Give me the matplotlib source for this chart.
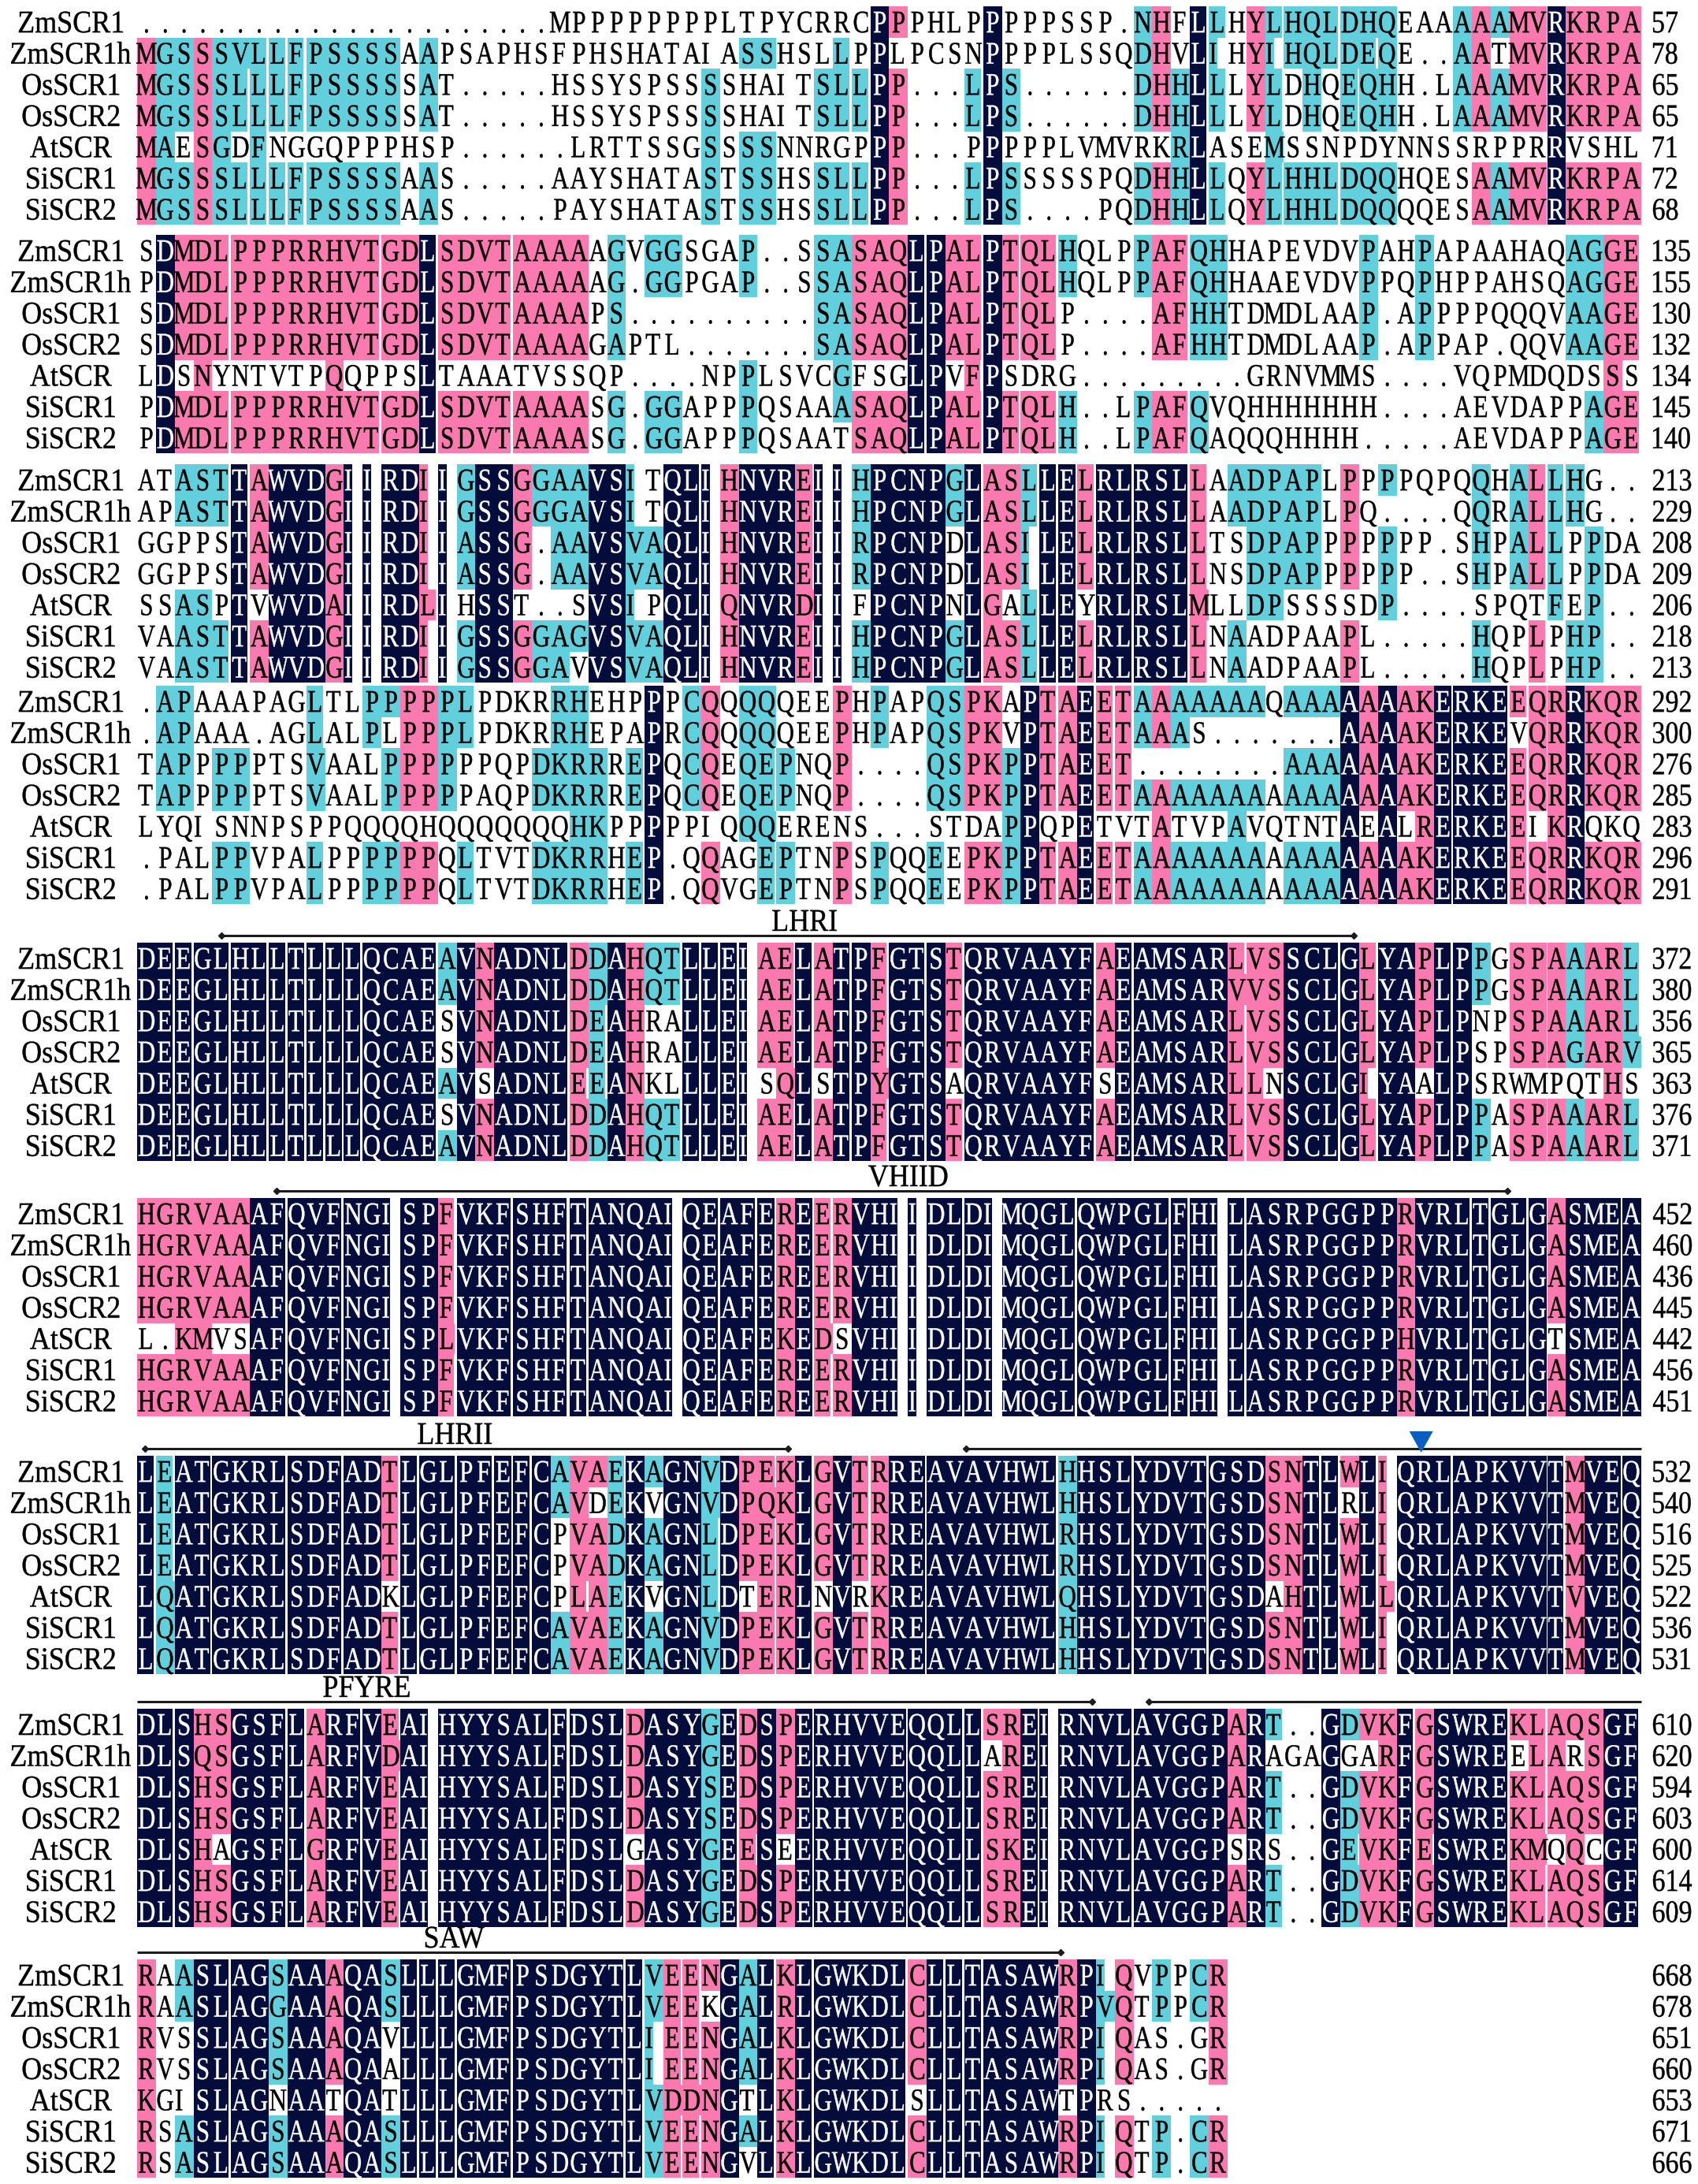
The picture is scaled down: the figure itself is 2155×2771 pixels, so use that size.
import matplotlib
matplotlib.use('Agg')
import matplotlib.pyplot as plt
from collections import Counter
from matplotlib.textpath import TextPath
from matplotlib.font_manager import FontProperties
from matplotlib.patches import PathPatch, Polygon
from matplotlib.path import Path
from matplotlib.collections import PolyCollection
from matplotlib.transforms import Affine2D

# ---------------- data ----------------
names = ['ZmSCR1', 'ZmSCR1h', 'OsSCR1', 'OsSCR2', 'AtSCR', 'SiSCR1', 'SiSCR2']

block1 = [
    '.' * 22 + 'MPPPPPPPPLTPYCRRCPPPHLPPPPPSSP.NHFLLHYLHQLDHQEAAAAAMVRKRPA',
    'MGSSSVLLFPSSSSAAPSAPHSFPHSHATAIASSHSLLPPLPCSNPPPPLSSQDHVLIHYIHQLDEQE..AATMVRKRPA',
    'MGSSSLLLFPSSSSSAT.....HSSYSPSSSSHAITSLLPP...LPS......DHHLLLYLDHQEQHH.LAAAMVRKRPA',
    'MGSSSLLLFPSSSSSAT.....HSSYSPSSSSHAITSLLPP...LPS......DHHLLLYLDHQEQHH.LAAAMVRKRPA',
    'MAESGDFNGGQPPPHSP......LRTTSSGSSSSNNRGPPP...PPPPPLVMVRKRLASEMSSNPDYNNSSRPPRRVSHL',
    'MGSSSLLLFPSSSSAAS.....AAYSHATASTSSHSSLLPP...LPSSSSSPQDHHLLQYLHHLDQQHQESAAMVRKRPA',
    'MGSSSLLLFPSSSSAAS.....PAYSHATASTSSHSSLLPP...LPS....PQDHHLLQYLHHLDQQQQESAAMVRKRPA',
]
block2 = [
    'SDMDLPPPRRHVTGDLSDVTAAAAAGVGGSGAP..SSASAQLPALPTQLHQLPPAFQHHAPEVDVPAHPAPAAHAQAGGE',
    'PDMDLPPPRRHVTGDLSDVTAAAAAG.GGPGAP..SSASAQLPALPTQLHQLPPAFQHHAAEVDVPPQPHPPAHSQAGGE',
    'SDMDLPPPRRHVTGDLSDVTAAAAPS..........SASAQLPALPTQLP....AFHHTDMDLAAP.APPPPQQQVAAGE',
    'SDMDLPPPRRHVTGDLSDVTAAAAGAPTL.......SASAQLPALPTQLP....AFHHTDMDLAAP.APPAP.QQVAAGE',
    'LDSNYNTVTPQQPPSLTAAATVSSQP....NPPLSVCGFSGLPVFPSDRG.........GRNVMMS....VQPMDQDSSS',
    'PDMDLPPPRRHVTGDLSDVTAAAASG.GGAPPPQSAAASAQLPALPTQLH..LPAFQVQHHHHHHH....AEVDAPPAGE',
    'PDMDLPPPRRHVTGDLSDVTAAAASG.GGAPPPQSAATSAQLPALPTQLH..LPAFQAQQQHHHH.....AEVDAPPAGE',
]
block3 = [
    'ATASTTAWVDGIIRDIIGSSGGAAVSITQLIHNVREIIHPCNPGLASLLELRLRSLLAADPAPLPPPPQPQQHALLHG..',
    'APASTTAWVDGIIRDIIGSSGGGAVSITQLIHNVREIIHPCNPGLASLLELRLRSLLAADPAPLPQ....QQRALLHG..',
    'GGPPSTAWVDGIIRDIIASSG.AAVSVAQLIHNVREIIRPCNPDLASILELRLRSLLTSDPAPPPPPPP.SHPALLPPDA',
    'GGPPSTAWVDGIIRDIIASSG.AAVSVAQLIHNVREIIRPCNPDLASILELRLRSLLNSDPAPPPPPP..SHPALLPPDA',
    'SSASPTVWVDAIIRDLIHSST..SVSIPQLIQNVRDIIFPCNPNLGALLEYRLRSLMLLDPSSSSDP....SPQTFEP..',
    'VAASTTAWVDGIIRDIIGSSGGAGVSVAQLIHNVREIIHPCNPGLASLLELRLRSLLNAADPAAPL.....HQPLPHP..',
    'VAASTTAWVDGIIRDIIGSSGGAVVSVAQLIHNVREIIHPCNPGLASLLELRLRSLLNAADPAAPL.....HQPLPHP..',
]
block4 = [
    '.APAAAPAGLTLPPPPPLPDKRRHEHPPPCQQQQQEEPHPAPQSPKAPTAEETAAAAAAAQAAAAAAAKERKEEQRRKQR',
    '.APAAA.AGLALPLPPPLPDKRRHEPAPRCQQQQQEEPHPAPQSPKVPTAEETAAAS.......AAAAKERKEVQRRKQR',
    'TAPPPPPTSVAALPPPPPPQPDKRRREPQCQEQEPNQP....QSPKPPTAEET........AAAAAAAKERKEEQRRKQR',
    'TAPPPPPTSVAALPPPPPAQPDKRRREPQCQEQEPNQP....QSPKPPTAEETAAAAAAAAAAAAAAAKERKEEQRRKQR',
    'LYQISNNPSPPQQQQHQQQQQQQHKPPPPPIQQQERENS...STDAPPQPETVTATVPAVQTNTAEALRERKEEIKRQKQ',
    '.PALPPVPALPPPPPPQLTVTDKRRHEP.QQAGEPTNPSPQQEEPKPPTAEETAAAAAAAAAAAAAAAKERKEEQRRKQR',
    '.PALPPVPALPPPPPPQLTVTDKRRHEP.QQVGEPTNPSPQQEEPKPPTAEETAAAAAAAAAAAAAAAKERKEEQRRKQR',
]
block5 = [
    'DEEGLHLLTLLLQCAEAVNADNLDDAHQTLLEIAELATPFGTSTQRVAAYFAEAMSARLVSSCLGLYAPLPPGSPAAARL',
    'DEEGLHLLTLLLQCAEAVNADNLDDAHQTLLEIAELATPFGTSTQRVAAYFAEAMSARVVSSCLGLYAPLPPGSPAAARL',
    'DEEGLHLLTLLLQCAESVNADNLDEAHRALLEIAELATPFGTSTQRVAAYFAEAMSARLVSSCLGLYAPLPNPSPAAARL',
    'DEEGLHLLTLLLQCAESVNADNLDEAHRALLEIAELATPFGTSTQRVAAYFAEAMSARLVSSCLGLYAPLPSPSPAGARV',
    'DEEGLHLLTLLLQCAEAVSADNLEEANKLLLEISQLSTPYGTSAQRVAAYFSEAMSARLLNSCLGIYAALPSRWMPQTHS',
    'DEEGLHLLTLLLQCAESVNADNLDDAHQTLLEIAELATPFGTSTQRVAAYFAEAMSARLVSSCLGLYAPLPPASPAAARL',
    'DEEGLHLLTLLLQCAEAVNADNLDDAHQTLLEIAELATPFGTSTQRVAAYFAEAMSARLVSSCLGLYAPLPPASPAAARL',
]
block6 = [
    'HGRVAAAFQVFNGISPFVKFSHFTANQAIQEAFEREERVHIIDLDIMQGLQWPGLFHILASRPGGPPRVRLTGLGASMEA',
    'HGRVAAAFQVFNGISPFVKFSHFTANQAIQEAFEREERVHIIDLDIMQGLQWPGLFHILASRPGGPPRVRLTGLGASMEA',
    'HGRVAAAFQVFNGISPFVKFSHFTANQAIQEAFEREERVHIIDLDIMQGLQWPGLFHILASRPGGPPRVRLTGLGASMEA',
    'HGRVAAAFQVFNGISPFVKFSHFTANQAIQEAFEREERVHIIDLDIMQGLQWPGLFHILASRPGGPPRVRLTGLGASMEA',
    'L.KMVSAFQVFNGISPLVKFSHFTANQAIQEAFEKEDSVHIIDLDIMQGLQWPGLFHILASRPGGPPHVRLTGLGTSMEA',
    'HGRVAAAFQVFNGISPFVKFSHFTANQAIQEAFEREERVHIIDLDIMQGLQWPGLFHILASRPGGPPRVRLTGLGASMEA',
    'HGRVAAAFQVFNGISPFVKFSHFTANQAIQEAFEREERVHIIDLDIMQGLQWPGLFHILASRPGGPPRVRLTGLGASMEA',
]
block7 = [
    'LEATGKRLSDFADTLGLPFEFCAVAEKAGNVDPEKLGVTRREAVAVHWLHHSLYDVTGSDSNTLWLIQRLAPKVVTMVEQ',
    'LEATGKRLSDFADTLGLPFEFCAVDEKVGNVDPQKLGVTRREAVAVHWLHHSLYDVTGSDSNTLRLIQRLAPKVVTMVEQ',
    'LEATGKRLSDFADTLGLPFEFCPVADKAGNLDPEKLGVTRREAVAVHWLRHSLYDVTGSDSNTLWLIQRLAPKVVTMVEQ',
    'LEATGKRLSDFADTLGLPFEFCPVADKAGNLDPEKLGVTRREAVAVHWLRHSLYDVTGSDSNTLWLIQRLAPKVVTMVEQ',
    'LQATGKRLSDFADKLGLPFEFCPLAEKVGNLDTERLNVRKREAVAVHWLQHSLYDVTGSDAHTLWLLQRLAPKVVTVVEQ',
    'LQATGKRLSDFADTLGLPFEFCAVAEKAGNVDPEKLGVTRREAVAVHWLHHSLYDVTGSDSNTLWLIQRLAPKVVTMVEQ',
    'LQATGKRLSDFADTLGLPFEFCAVAEKAGNVDPEKLGVTRREAVAVHWLHHSLYDVTGSDSNTLWLIQRLAPKVVTMVEQ',
]
block8 = [
    'DLSHSGSFLARFVEAIHYYSALFDSLDASYGEDSPERHVVEQQLLSREIRNVLAVGGPART..GDVKFGSWREKLAQSGF',
    'DLSQSGSFLARFVDAIHYYSALFDSLDASYGEDSPERHVVEQQLLAREIRNVLAVGGPARAGAGGARFGSWREELARSGF',
    'DLSHSGSFLARFVEAIHYYSALFDSLDASYSEDSPERHVVEQQLLSREIRNVLAVGGPART..GDVKFGSWREKLAQSGF',
    'DLSHSGSFLARFVEAIHYYSALFDSLDASYSEDSPERHVVEQQLLSREIRNVLAVGGPART..GDVKFGSWREKLAQSGF',
    'DLSHAGSFLGRFVEAIHYYSALFDSLGASYGEESEERHVVEQQLLSKEIRNVLAVGGPSRS..GEVKFESWREKMQQCGF',
    'DLSHSGSFLARFVEAIHYYSALFDSLDASYGEDSPERHVVEQQLLSREIRNVLAVGGPART..GDVKFGSWREKLAQSGF',
    'DLSHSGSFLARFVEAIHYYSALFDSLDASYGEDSPERHVVEQQLLSREIRNVLAVGGPART..GDVKFGSWREKLAQSGF',
]
block9 = [
    'RAASLAGSAAAQASLLLGMFPSDGYTLVEENGALKLGWKDLCLLTASAWRPIQVPPCR',
    'RAASLAGGAAAQASLLLGMFPSDGYTLVEEKGALRLGWKDLCLLTASAWRPVQTPPCR',
    'RVSSLAGSAAAQAVLLLGMFPSDGYTLIEENGALKLGWKDLCLLTASAWRPIQAS.GR',
    'RVSSLAGSAAAQAALLLGMFPSDGYTLIEENGALKLGWKDLCLLTASAWRPIQAS.GR',
    'KGISLAGNAATQATLLLGMFPSDGYTLVDDNGTLKLGWKDLSLLTASAWTPRS.....',
    'RSASLAGSAAAQASLLLGMFPSDGYTLVEENGALKLGWKDLCLLTASAWRPIQTP.CR',
    'RSASLAGSAAAQASLLLGMFPSDGYTLVEENGVLKLGWKDLCLLTASAWRPIQTP.CR',
]
blocks = [block1, block2, block3, block4, block5, block6, block7, block8, block9]

ends1 = [57, 78, 65, 65, 71, 72, 68]
ends2 = [135, 155, 130, 132, 134, 145, 140]
ends3 = [213, 229, 208, 209, 206, 218, 213]
ends4 = [292, 300, 276, 285, 283, 296, 291]
ends5 = [372, 380, 356, 365, 363, 376, 371]
ends6 = [452, 460, 436, 445, 442, 456, 451]
ends7 = [532, 540, 516, 525, 522, 536, 531]
ends8 = [610, 620, 594, 603, 600, 614, 609]
ends9 = [668, 678, 651, 660, 653, 671, 666]
ends = [ends1, ends2, ends3, ends4, ends5, ends6, ends7, ends8, ends9]

# domain spans: (block, first column, last column) in alignment columns
motif_spans = [(4, 4.5, 64.7), (5, 7.4, 72.9), (6, 0.4, 34.6),
               (6, 44.1, 80), (7, 0, 50.8), (7, 53.8, 80), (8, 0, 49.1)]
motif_labels = [(4, 'LHRI', 35.5), (5, 'VHIID', 41.0), (6, 'LHRII', 16.9),
                (7, 'PFYRE', 12.2), (8, 'SAW', 16.9)]
site_marks = [(6, 68.3)]

# similar residue groups used for shading
SIM = {'D': 'EN', 'E': 'DQ', 'N': 'DQH', 'Q': 'ENH',
       'K': 'R', 'R': 'KH', 'H': 'RQN',
       'I': 'LVM', 'L': 'IVMF', 'V': 'ILM', 'M': 'ILV',
       'F': 'YLW', 'Y': 'FW', 'W': 'FY',
       'G': 'SAE', 'S': 'G', 'A': 'G'}

# ---------------- layout ----------------
W, H = 2155, 2771
X0 = 174.0
PITCH = 23.86
ROW_H = 39.6
BLOCK_Y = [28, 318, 609, 890, 1216, 1540, 1867, 2188, 2506]
NAME_X = 90
NUM_X = 2098
EM_Y = 40.0
EM_X = 31.0
NAME_EMX = 36.0
NUM_EMX = 34.0
CAP = 0.655 * EM_Y
BOXW = {'I': 0.46, 'L': 0.88, 'T': 0.88, 'E': 0.9, 'F': 0.86}

NAVY = '#030c3b'
PINK = '#fa7aaf'
CYAN = '#62d0dc'

fig = plt.figure(figsize=(W / 100, H / 100), dpi=100)
ax = fig.add_axes([0, 0, 1, 1])
ax.set_xlim(0, W)
ax.set_ylim(H, 0)
ax.axis('off')

fp = FontProperties(family='Liberation Serif')
_paths = {}


def tpath(s):
    if s not in _paths:
        _paths[s] = TextPath((0, 0), s, size=1, prop=fp)
    return _paths[s]


ink = {'black': [], 'white': []}


def put(s, x, yb, sx, sy, color='black', ha='center'):
    p = tpath(s)
    e = p.get_extents()
    if ha == 'center':
        dx = x - (e.x0 + e.x1) / 2 * sx
    elif ha == 'left':
        dx = x - e.x0 * sx
    else:
        dx = x - e.x1 * sx
    ink[color].append(Affine2D().scale(sx, -sy).translate(dx, yb).transform_path(p))


def column_style(block, j):
    res = [s[j] for s in block if s[j] != '.']
    if not res:
        return None, None
    cons, cnt = Counter(res).most_common(1)[0]
    if cnt == len(block):
        return NAVY, cons
    if cnt >= 6:
        return PINK, cons
    if cnt >= 4:
        return CYAN, cons
    return None, cons


boxes = {CYAN: [], PINK: [], NAVY: []}

for b, (blk, nums) in enumerate(zip(blocks, ends)):
    y1 = BLOCK_Y[b]
    styles = [column_style(blk, j) for j in range(len(blk[0]))]
    for r, (name, seq, num) in enumerate(zip(names, blk, nums)):
        yc = y1 + r * ROW_H
        yb = yc + CAP / 2
        put(name, NAME_X, yb, NAME_EMX, EM_Y)
        put(str(num), NUM_X, yb, NUM_EMX, EM_Y, ha='left')
        for j, ch in enumerate(seq):
            xl = X0 + j * PITCH
            if ch == '.':
                put('.', xl + PITCH / 2, yb, EM_X, EM_Y)
                continue
            level, cons = styles[j]
            color = None
            if level is not None and (ch == cons or ch in SIM.get(cons, '')):
                color = level
            bw = PITCH * BOXW.get(ch, 1.0)
            if color is not None:
                top, bot = yc - ROW_H / 2, yc + ROW_H / 2
                boxes[color].append([(xl, top), (xl + bw, top), (xl + bw, bot), (xl, bot)])
            e = tpath(ch).get_extents()
            sx = min(EM_X, bw * 1.08 / (e.x1 - e.x0))
            put(ch, xl + bw / 2, yb, sx, EM_Y, 'white' if color == NAVY else 'black')

for col, verts in boxes.items():
    if verts:
        ax.add_collection(PolyCollection(verts, facecolors=col, edgecolors='none',
                                         antialiased=False, zorder=1))

# domain lines, labels and site mark
for b, c0, c1 in motif_spans:
    y = BLOCK_Y[b] - 29
    x0, x1 = X0 + c0 * PITCH, X0 + c1 * PITCH
    ax.plot([x0, x1], [y, y], color='#1c1c1c', lw=2.2, solid_capstyle='butt', zorder=3)
    for c, x in ((c0, x0), (c1, x1)):
        if 0 < c < 80:
            ax.plot([x], [y], marker='D', ms=4.5, color='#1c1c1c', zorder=3)

for b, text, c in motif_labels:
    put(text, X0 + c * PITCH, BLOCK_Y[b] - 35, NAME_EMX, EM_Y)

for b, c in site_marks:
    xc = X0 + c * PITCH
    yt = BLOCK_Y[b] - 51
    ax.add_patch(Polygon([(xc - 15, yt), (xc + 15, yt), (xc, yt + 27)],
                         closed=True, facecolor='#0b5fc3', edgecolor='none', zorder=4))

for col, plist in ink.items():
    if plist:
        ax.add_patch(PathPatch(Path.make_compound_path(*plist), facecolor=col,
                               edgecolor=col, lw=0.3, zorder=5))

fig.savefig('out.png', dpi=100)
